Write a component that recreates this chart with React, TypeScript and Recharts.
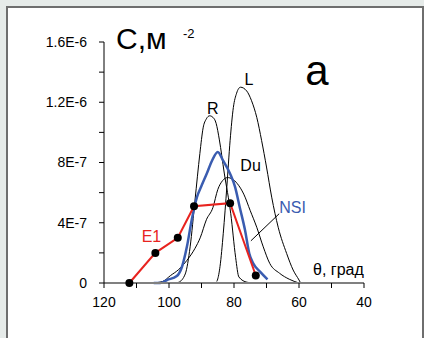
import React from 'react';
import { LineChart, Line, XAxis, YAxis, ReferenceDot, ReferenceLine } from 'recharts';

// theta in degrees, C in units of 1E-7 m^-2
const rTheta = [98, 97, 95, 93.5, 92, 90.5, 89.5, 88.5, 87.5, 86.5, 85.5, 84.5, 83, 81, 79.5, 78.5, 76, 74];
const rC = [0, 0.05, 0.6, 2.4, 5.5, 8.6, 10.3, 10.9, 11.1, 11.0, 10.6, 9.5, 7.3, 4.6, 1.7, 0.4, 0.05, 0];

const lTheta = [85.3, 85.1, 84.3, 83.3, 82.2, 81.2, 80.2, 79.2, 78, 76.1, 74.6, 73, 71.5, 70, 68.4, 66.4, 63.8, 61.8, 60, 59.5];
const lC = [0.1, 0.2, 1.1, 3.3, 6.4, 9.45, 11.65, 12.6, 13.0, 12.75, 12.1, 11.0, 9.45, 7.7, 5.7, 3.7, 1.96, 0.86, 0.2, 0];

const duTheta = [105, 102, 99.5, 97, 94.5, 92, 90.4, 88.5, 86.5, 85, 83.5, 82, 80.5, 79, 77, 75, 73, 71, 69, 66, 63, 60];
const duC = [0, 0.1, 0.5, 0.9, 1.5, 2.3, 3.0, 4.2, 5.0, 6.2, 6.8, 7.0, 6.9, 6.6, 5.9, 4.8, 3.7, 2.4, 1.3, 0.65, 0.25, 0];

const nsiTheta = [104.7, 102.7, 100.6, 97.6, 96, 94.5, 93, 91.4, 89.9, 88.4, 86.8, 85, 83.3, 81.2, 79.7, 78.2, 76.6, 75.3, 74.1, 72, 69.7];
const nsiC = [0, 0, 0.2, 0.46, 1.08, 2.4, 4.2, 5.7, 6.5, 7.25, 8.1, 8.7, 8.1, 7.25, 6.4, 5.0, 3.5, 1.96, 1.3, 0.75, 0.24];

const e1Theta = [112.2, 104.2, 97.3, 92.3, 81.2, 73.3];
const e1C = [0, 2.0, 3.0, 5.1, 5.3, 0.5];

const xTicks = [120, 110, 100, 90, 80, 70, 60, 50, 40];
const yTicks = [0, 2, 4, 6, 8, 10, 12, 14, 16];
const yTickLabels = ['0', '', '4E-7', '', '8E-7', '', '1.2E-6', '', '1.6E-6'];

const zip = (t: number[], c: number[]) => t.map((v, i) => ({ t: v, c: c[i] }));

const FONT = '"Liberation Sans", Arial, sans-serif';
const RED = '#e8231f';
const BLUE = '#3a5cb0';

const lbl = (value: string, fill = '#000', fontSize = 16) => ({
  value,
  position: 'center' as const,
  fill,
  fontSize,
  fontFamily: FONT,
});

export default function App() {
  return (
    <div style={{ position: 'absolute', left: 0, top: 0, width: 424, height: 338, background: '#e6ebe9', overflow: 'hidden' }}>
      <div
        style={{
          position: 'absolute',
          left: 6,
          top: 6,
          width: 414,
          height: 340,
          background: '#fff',
          borderLeft: '2px solid #6e6e6e',
          borderTop: '2px solid #6e6e6e',
          borderRight: '2px solid #6e6e6e',
        }}
      />
      <div style={{ position: 'absolute', left: 0, top: 0 }}>
        <LineChart width={424} height={338} margin={{ top: 42, right: 60, bottom: 25, left: 44 }}>
          <XAxis
            dataKey="t"
            type="number"
            domain={[40, 120]}
            reversed
            ticks={xTicks}
            interval={0}
            tickFormatter={(v: number) => (v % 20 === 0 ? String(v) : '')}
            height={30}
            tickSize={5}
            tickMargin={9}
            axisLine={{ stroke: '#808080', strokeWidth: 2 }}
            tickLine={{ stroke: '#000' }}
            tick={{ fill: '#000', fontSize: 14, fontFamily: FONT }}
            allowDuplicatedCategory={false}
          />
          <YAxis
            type="number"
            domain={[0, 16]}
            ticks={yTicks}
            interval={0}
            tickFormatter={(v: number) => yTickLabels[yTicks.indexOf(v)] ?? ''}
            width={60}
            tickSize={5}
            tickMargin={12}
            axisLine={{ stroke: '#000' }}
            tickLine={{ stroke: '#000' }}
            tick={{ fill: '#000', fontSize: 14, fontFamily: FONT }}
          />
          <Line data={zip(rTheta, rC)} dataKey="c" type="monotone" stroke="#000" strokeWidth={1} dot={false} isAnimationActive={false} />
          <Line data={zip(lTheta, lC)} dataKey="c" type="monotone" stroke="#000" strokeWidth={1} dot={false} isAnimationActive={false} />
          <Line data={zip(duTheta, duC)} dataKey="c" type="monotone" stroke="#000" strokeWidth={1} dot={false} isAnimationActive={false} />
          <Line data={zip(nsiTheta, nsiC)} dataKey="c" type="monotone" stroke={BLUE} strokeWidth={2.5} dot={false} isAnimationActive={false} />
          <Line
            data={zip(e1Theta, e1C)}
            dataKey="c"
            type="linear"
            stroke={RED}
            strokeWidth={2}
            dot={{ r: 4, fill: '#000', stroke: '#000', strokeWidth: 0 }}
            isAnimationActive={false}
          />
          <ReferenceLine segment={[{ x: 66.1, y: 4.6 }, { x: 74.8, y: 2.8 }]} stroke="#000" strokeWidth={1} />
          <ReferenceDot x={86.5} y={11.6} r={0} fill="none" stroke="none" label={lbl('R')} />
          <ReferenceDot x={75.4} y={13.5} r={0} fill="none" stroke="none" label={lbl('L')} />
          <ReferenceDot x={74.9} y={7.8} r={0} fill="none" stroke="none" label={lbl('Du')} />
          <ReferenceDot x={62.0} y={5.0} r={0} fill="none" stroke="none" label={lbl('NSI', BLUE)} />
          <ReferenceDot x={105.4} y={3.1} r={0} fill="none" stroke="none" label={lbl('E1', RED)} />
        </LineChart>
      </div>
      <svg width={424} height={338} style={{ position: 'absolute', left: 0, top: 0, pointerEvents: 'none' }}>
        <text x={116} y={49} fontSize={30} fontFamily={FONT} fill="#000">С,м</text>
        <text x={183} y={38} fontSize={13} fontFamily={FONT} fill="#000">-2</text>
        <text x={317} y={85} fontSize={42} fontFamily={FONT} fill="#000" textAnchor="middle">а</text>
        <text x={313} y={275} fontSize={16} fontFamily={FONT} fill="#000">θ, град</text>
      </svg>
    </div>
  );
}
